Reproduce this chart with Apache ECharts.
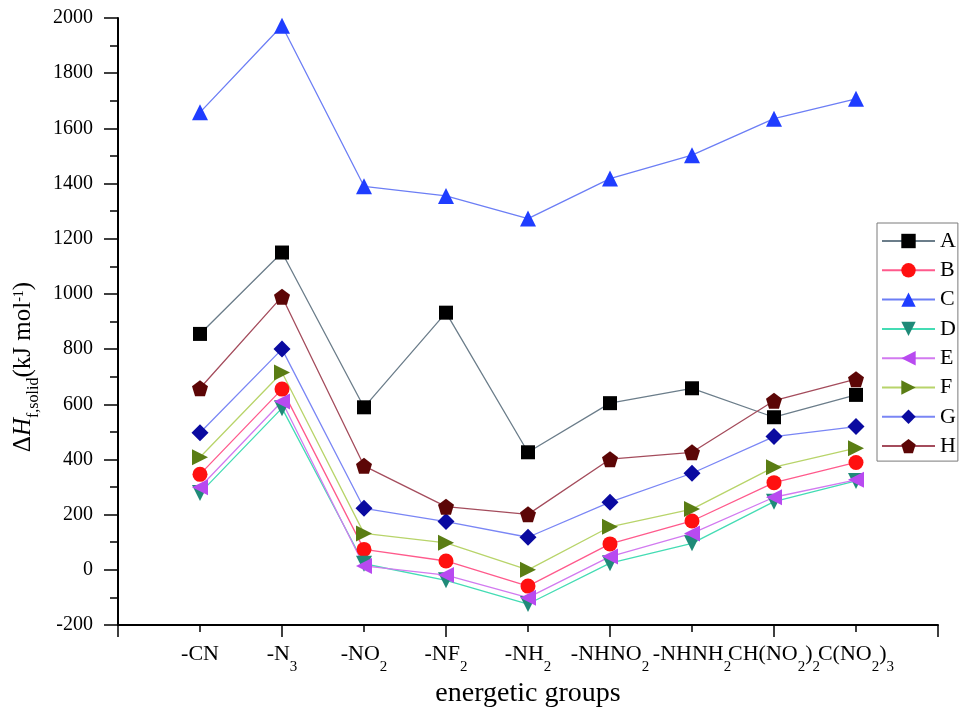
<!DOCTYPE html>
<html>
<head>
<meta charset="utf-8">
<script src="https://cdn.jsdelivr.net/npm/echarts@6/dist/echarts.min.js"></script>
<style>
html,body{margin:0;padding:0;background:#fff;}
#chart{width:969px;height:714px;}
</style>
</head>
<body>
<div id="chart"></div>
<script>
// Category tick labels (rich-text markup for subscripts)
const categories = ['{m|-CN}', '{m|-N}{s|3}', '{m|-NO}{s|2}', '{m|-NF}{s|2}', '{m|-NH}{s|2}',
  '{m|-NHNO}{s|2}', '{m|-NHNH}{s|2}', '{m|CH(NO}{s|2}{m|)}{s|2}', '{m|C(NO}{s|2}{m|)}{s|3}'];
const seriesNames = ['A', 'B', 'C', 'D', 'E', 'F', 'G', 'H'];
const A = [855, 1150, 589, 932, 426, 604, 658, 553, 634];
const B = [346, 655, 74, 32, -59, 94, 177, 316, 389];
const C = [1658, 1972, 1390, 1355, 1273, 1418, 1503, 1635, 1707];
const D = [278, 586, 22, -38, -124, 24, 96, 247, 322];
const E = [299, 610, 14, -19, -101, 48, 132, 263, 326];
const F = [408, 715, 132, 98, 0, 156, 220, 372, 441];
const G = [497, 800, 223, 175, 118, 245, 350, 483, 519];
const H = [658, 990, 377, 229, 201, 401, 426, 613, 691];
const yTicks = {min: -200, max: 2000, interval: 200};

const values = [A, B, C, D, E, F, G, H];
const markerColors = ['#000000', '#ff1010', '#1f3dff', '#1f8a78', '#b84af0', '#5a7d14', '#0a0aa0', '#5c0606'];
const lineColors = ['#6b7d8a', '#ff5a8c', '#6c7ef5', '#44dcb4', '#d27af0', '#b8d46a', '#7a86f5', '#a44c5c'];
const pentagon = 'path://M50,0 L97.6,34.5 L79.4,90.5 L20.6,90.5 L2.4,34.5 Z';
const symbols = ['rect', 'circle', 'triangle', 'triangle', 'triangle', 'triangle', 'diamond', pentagon];
const rotations = [0, 0, 0, 180, 90, -90, 0, 0];
const sizes = [14, 15, 16, 16, 16, 16, 17, 16];

const serif = 'Liberation Serif';
const chart = echarts.init(document.getElementById('chart'));

const series = seriesNames.map((name, k) => ({
  name: name,
  type: 'line',
  xAxisIndex: 0,
  data: values[k].map((v, i) => [i + 1, v]),
  symbol: symbols[k],
  symbolRotate: rotations[k],
  symbolSize: sizes[k],
  showAllSymbol: true,
  lineStyle: {color: lineColors[k], width: 1.3},
  itemStyle: {color: markerColors[k], borderWidth: 0},
  emphasis: {disabled: true},
  z: 2
}));

const option = {
  animation: false,
  backgroundColor: '#ffffff',
  grid: {left: 118, right: 31, top: 18, bottom: 89},
  legend: {
    orient: 'vertical',
    left: 877,
    top: 223,
    padding: [7, 2, 4, 4],
    itemWidth: 53,
    itemHeight: 18,
    itemGap: 7.3,
    borderColor: '#7a7a7a',
    borderWidth: 1,
    textStyle: {fontFamily: serif, fontSize: 22, color: '#000'},
    data: seriesNames
  },
  xAxis: [
    {
      type: 'value', min: 0, max: 10, interval: 1,
      name: 'energetic groups', nameLocation: 'middle', nameGap: 49,
      nameTextStyle: {fontFamily: serif, fontSize: 28, color: '#000'},
      axisLine: {show: true, onZero: false, lineStyle: {color: '#000', width: 2}},
      axisTick: {show: false},
      splitLine: {show: false},
      axisLabel: {
        margin: 18,
        color: '#000',
        formatter: function (v) { return (v >= 1 && v <= 9) ? categories[v - 1] : ''; },
        rich: {
          m: {fontFamily: serif, fontSize: 22, color: '#000', lineHeight: 24, verticalAlign: 'top'},
          s: {fontFamily: serif, fontSize: 15, color: '#000', lineHeight: 15, verticalAlign: 'top', padding: [17, 0, 0, 0]}
        }
      }
    },
    {
      type: 'value', min: 0, max: 10, interval: 2, position: 'bottom',
      axisLine: {show: false, onZero: false},
      axisLabel: {show: false},
      splitLine: {show: false},
      axisTick: {show: true, length: 12, lineStyle: {color: '#000', width: 1.5}},
      minorTick: {show: true, splitNumber: 2, length: 7, lineStyle: {color: '#000', width: 1.5}},
      minorSplitLine: {show: false}
    }
  ],
  yAxis: {
    type: 'value', min: yTicks.min, max: yTicks.max, interval: yTicks.interval,
    name: '{d|Δ}{h|H}{s|f,solid}{n|(kJ mol}{p|-1}{n|)}',
    nameLocation: 'middle', nameGap: 72, nameRotate: 90,
    nameTextStyle: {
      padding: [0, 91, 0, 0],
      rich: {
        d: {fontFamily: serif, fontSize: 25, color: '#000', lineHeight: 28, verticalAlign: 'top'},
        h: {fontFamily: serif, fontSize: 25, fontStyle: 'italic', color: '#000', lineHeight: 28, verticalAlign: 'top'},
        n: {fontFamily: serif, fontSize: 25, color: '#000', lineHeight: 28, verticalAlign: 'top'},
        s: {fontFamily: serif, fontSize: 16, color: '#000', lineHeight: 16, verticalAlign: 'top', padding: [15, 0, 0, 0]},
        p: {fontFamily: serif, fontSize: 14, color: '#000', lineHeight: 14, verticalAlign: 'top', padding: [1, 0, 0, 0]}
      }
    },
    axisLine: {show: true, onZero: false, lineStyle: {color: '#000', width: 2}},
    axisTick: {show: true, length: 14, lineStyle: {color: '#000', width: 1.5}},
    minorTick: {show: true, splitNumber: 2, length: 8, lineStyle: {color: '#000', width: 1.5}},
    splitLine: {show: false},
    minorSplitLine: {show: false},
    axisLabel: {fontFamily: serif, fontSize: 20, color: '#000', margin: 25, formatter: function (v) { return String(v); }}
  },
  series: series
};
chart.setOption(option);
</script>
</body>
</html>
